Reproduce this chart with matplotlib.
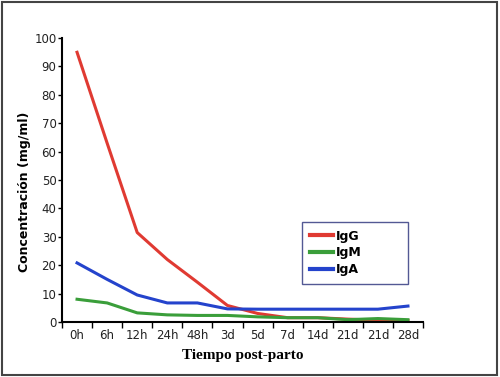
import matplotlib.pyplot as plt
import numpy as np
from matplotlib.patches import Rectangle

# Data
tiempos = ['0h', '6h', '12h', '24h', '48h', '3d', '5d', '7d', '14d', '21d', '21d', '28d']
igg = [95, 63, 31.5, 22, 14, 5.8, 3, 1.5, 1.5, 1, 0.6, 0.5]
igm = [8, 6.7, 3.2, 2.5, 2.3, 2.3, 1.8, 1.5, 1.5, 0.8, 1.2, 0.8]
iga = [20.8, 15, 9.5, 6.7, 6.7, 4.6, 4.5, 4.5, 4.5, 4.5, 4.5, 5.6]

fig = plt.figure(figsize=(5, 3.77), dpi=100)
ax = fig.add_axes([0.124, 0.146, 0.722, 0.753])

x = np.arange(len(tiempos))
ax.plot(x, igg, color='#e03a32', lw=2.2, label='IgG')
ax.plot(x, igm, color='#3a9e3a', lw=2.2, label='IgM')
ax.plot(x, iga, color='#2443cc', lw=2.2, label='IgA')

ax.set_xlim(-0.5, len(tiempos) - 0.5)
ax.set_ylim(0, 100)
ax.set_yticks(range(0, 101, 10))
ax.set_xticks(x)
ax.set_xticklabels(tiempos)
ax.set_xticks(np.arange(-0.5, len(tiempos)), minor=True)
ax.tick_params(axis='x', which='major', length=0, pad=5, labelsize=8.5)
ax.tick_params(axis='x', which='minor', length=4, width=1, direction='out')
ax.tick_params(axis='y', length=3, width=1, direction='out', labelsize=8.5, pad=1)
for t in ax.get_xticklabels() + ax.get_yticklabels():
    t.set_color('#222222')

for s in ['top', 'right']:
    ax.spines[s].set_visible(False)
for s in ['left', 'bottom']:
    ax.spines[s].set_linewidth(1.5)

ax.set_ylabel('Concentración (mg/ml)', fontsize=9, fontweight='bold')
ax.yaxis.set_label_coords(-0.085, 0.46)
ax.set_xlabel('Tiempo post-parto', fontsize=11, fontweight='bold',
              family='Liberation Serif', labelpad=5)

leg = ax.legend(loc='center', bbox_to_anchor=(0.665, 0.134, 0.294, 0.218), mode='expand',
                frameon=True, fancybox=False, handlelength=1.9, handletextpad=0.2,
                labelspacing=0.3, borderpad=0.6, borderaxespad=0,
                prop={'weight': 'bold', 'size': 9})
leg.get_frame().set_edgecolor('#28307a')
leg.get_frame().set_linewidth(1)
for line in leg.get_lines():
    line.set_linewidth(3)

# image border
fig.patches.append(Rectangle((0.003, 0.004), 0.99, 0.99, transform=fig.transFigure,
                             fill=False, edgecolor='#444444', lw=1.5))

fig.savefig('out.png', dpi=100)
